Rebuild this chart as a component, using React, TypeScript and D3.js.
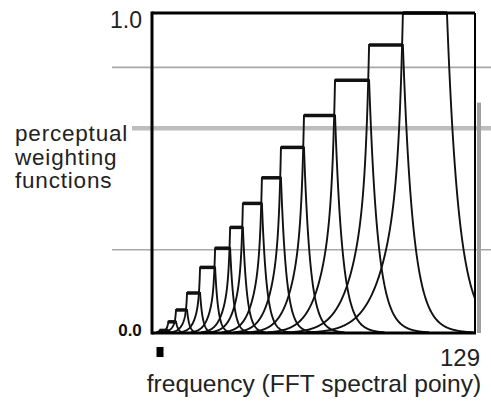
import React from "react";
import * as d3 from "d3";

// ---- data ----
// plateau edges of the weighting functions, in FFT bins (contiguous plateaus)
const FILTER_EDGES = [3, 6.5, 9.6, 14, 19.2, 25.2, 31.2, 36.3, 43.9, 51.5, 60.7, 73.1, 86.7, 100.2, 117.8];
// peak (plateau) value of each weighting function
const FILTER_PEAKS = [0.008, 0.035, 0.072, 0.125, 0.205, 0.265, 0.33, 0.405, 0.485, 0.58, 0.68, 0.79, 0.9, 1.0];
// skirt shape: low side = fast drop share + slow tail (decades per Bark); high side single decay
const SKIRT_FAST_SHARE = 0.4;
const SKIRT_FAST = 5;
const SKIRT_LOW = 0.9;
const SKIRT_HIGH = 1.8;
// faint horizontal rules in the scan (value units)
const RULE_VALUES = [0.83, 0.64, 0.26];
const Y_LABELS = ["0.0", "1.0"];
const X_MAX_LABEL = "129";
const X_MIN_TICK = 3;
const Y_AXIS_TITLE = ["perceptual", "weighting", "functions"];
const X_AXIS_TITLE = "frequency (FFT spectral poiny)";

const W = 491;
const H = 404;
const plot = { left: 152, right: 475, top: 13, bottom: 333 };

const x = d3.scaleLinear().domain([0, 129]).range([plot.left, plot.right]);
const y = d3.scaleLinear().domain([0, 1]).range([plot.bottom, plot.top]);

// frequency (Hz) of FFT bin for 8 kHz sampling, 256-point FFT -> Bark
const bark = (bin: number) => 6 * Math.asinh((bin * 4000) / 128 / 600);

function filterPoints(k: number): [number, number][] {
  const lo = FILTER_EDGES[k];
  const hi = FILTER_EDGES[k + 1];
  const h = FILTER_PEAKS[k];
  const pts: [number, number][] = [];
  for (let b = 0; b <= 129.0001; b += 0.1) {
    let v: number;
    if (b < lo) {
      const d = bark(lo) - bark(b);
      v = h * (SKIRT_FAST_SHARE * Math.pow(10, -SKIRT_FAST * d) + (1 - SKIRT_FAST_SHARE) * Math.pow(10, -SKIRT_LOW * d));
    } else if (b > hi) v = h * Math.pow(10, -SKIRT_HIGH * (bark(b) - bark(hi)));
    else v = h;
    pts.push([b, v]);
  }
  pts.push([lo, h], [hi, h]);
  pts.sort((a, c) => a[0] - c[0]);
  return pts.filter((p) => p[1] > 0.002 || (p[0] >= lo && p[0] <= hi));
}

const line = d3
  .line<[number, number]>()
  .x((d) => x(d[0]))
  .y((d) => y(d[1]));

export default function App() {
  const font = "'Liberation Sans', Arial, sans-serif";
  return (
    <svg
      width={W}
      height={H}
      viewBox={`0 0 ${W} ${H}`}
      style={{ position: "absolute", left: 0, top: 0, background: "#fff" }}
    >
      <rect x={0} y={0} width={W} height={H} fill="#fff" />
      <defs>
        <clipPath id="plotclip">
          <rect x={plot.left} y={plot.top - 3} width={plot.right - plot.left} height={plot.bottom - plot.top + 4} />
        </clipPath>
      </defs>

      {/* faint horizontal rules */}
      {RULE_VALUES.map((v, i) => (
        <line
          key={i}
          x1={i === 1 ? 132 : 112}
          x2={W}
          y1={y(v)}
          y2={y(v)}
          stroke={i === 1 ? "#bdbdbd" : "#a8a8a8"}
          strokeWidth={i === 1 ? 4.5 : 1.6}
        />
      ))}

      {/* scan shadow at right */}
      <line x1={plot.right + 4} x2={plot.right + 4} y1={y(0.72)} y2={y(0)} stroke="#a0a0a0" strokeWidth={4} />

      {/* weighting functions */}
      <g clipPath="url(#plotclip)">
        {FILTER_PEAKS.map((_, k) => (
          <path key={k} d={line(filterPoints(k)) || ""} fill="none" stroke="#111" strokeWidth={1.9} />
        ))}
        {FILTER_PEAKS.map((h, k) => (
          <line
            key={"p" + k}
            x1={x(FILTER_EDGES[k])}
            x2={x(FILTER_EDGES[k + 1])}
            y1={y(h)}
            y2={y(h)}
            stroke="#111"
            strokeWidth={3.5}
          />
        ))}
      </g>

      {/* frame */}
      <line x1={plot.left} x2={plot.left} y1={plot.top - 1.5} y2={plot.bottom + 1.5} stroke="#000" strokeWidth={3} />
      <line x1={plot.left} x2={plot.right} y1={plot.top} y2={plot.top} stroke="#000" strokeWidth={3} />
      <line x1={plot.right} x2={plot.right} y1={plot.top} y2={plot.bottom} stroke="#000" strokeWidth={2} />
      <line x1={plot.left} x2={plot.right + 1} y1={plot.bottom} y2={plot.bottom} stroke="#000" strokeWidth={3} />

      {/* tick marker at low end */}
      <rect x={x(X_MIN_TICK) - 3} y={347} width={7} height={10} fill="#000" />

      {/* y labels */}
      <text x={126} y={28} fontFamily={font} fontSize={23} fill="#222" textAnchor="middle">
        {Y_LABELS[1]}
      </text>
      <text x={130} y={336} fontFamily={font} fontSize={17} fontWeight="bold" fill="#111" textAnchor="middle">
        {Y_LABELS[0]}
      </text>

      {/* x label */}
      <text x={x(129) + 5} y={366} fontFamily={font} fontSize={24} fill="#222" textAnchor="end">
        {X_MAX_LABEL}
      </text>

      {/* axis titles */}
      {Y_AXIS_TITLE.map((t, i) => (
        <text key={t} x={15} y={141 + i * 23.5} fontFamily={font} fontSize={22.5} letterSpacing={0.8} fill="#222">
          {t}
        </text>
      ))}
      <text x={314} y={392} fontFamily={font} fontSize={24.6} fill="#222" textAnchor="middle">
        {X_AXIS_TITLE}
      </text>
    </svg>
  );
}
